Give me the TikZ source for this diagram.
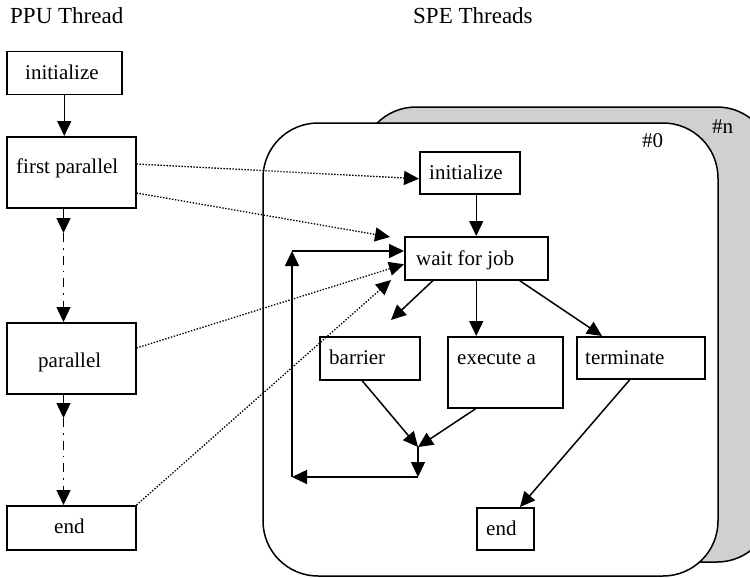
\documentclass[tikz,border=0pt]{standalone}
\usepackage{fontspec}
\setmainfont{Liberation Serif}
\usetikzlibrary{arrows.meta,calc}
\definecolor{shade}{RGB}{208,208,208}

\begin{document}
\begin{tikzpicture}[x=1pt,y=-1pt,
  box/.style={draw, line width=1.5pt, fill=white, anchor=north west, inner sep=0pt},
  lbl/.style={anchor=base west, inner sep=0pt, font=\fontsize{21}{25}\selectfont},
  title/.style={anchor=base west, inner sep=0pt, font=\fontsize{23}{27}\selectfont},
  tip/.style={-{Triangle[length=15pt,width=14pt]}},
  flow/.style={line width=1.5pt, tip},
  dashdot/.style={dash pattern=on 9pt off 6pt on 1.5pt off 6pt},
  call/.style={line width=1.3pt, dash pattern=on 1.4pt off 1.6pt, tip},
  frame/.style={draw, line width=1.5pt, rounded corners=55pt}]

\clip (0,0) rectangle (750,578);

% thread frames: SPE #n behind SPE #0
\path[frame, fill=shade] (361,107) rectangle (772,562);
\path[frame, fill=white] (263,123) rectangle (718,576);

% column titles
\node[title] (ppuT) at (10,24) {PPU Thread};
\node[title] (speT) at (413,24) {SPE Threads};
\node[lbl] (tag0) at (642,147) {\#0};
\node[lbl] (tagn) at (712,133) {\#n};

% PPU boxes
\node[box, minimum width=115pt, minimum height=43pt] (ppuinit) at (6,51) {};
\node[box, minimum width=129pt, minimum height=71pt] (fp) at (6,136) {};
\node[box, minimum width=129pt, minimum height=71pt] (par) at (6,322) {};
\node[box, minimum width=129pt, minimum height=44pt] (ppuend) at (6,505) {};

% SPE boxes
\node[box, minimum width=100pt, minimum height=42pt] (speinit) at (419,151) {};
\node[box, minimum width=143pt, minimum height=43pt] (wait) at (404,236) {};
\node[box, minimum width=100pt, minimum height=43pt] (barrier) at (319,336) {};
\node[box, minimum width=115pt, minimum height=71pt] (exec) at (447,336) {};
\node[box, minimum width=128pt, minimum height=42pt] (term) at (576,336) {};
\node[box, minimum width=57pt, minimum height=42pt] (speend) at (476,507) {};

% box texts
\node[lbl] (ppuinitT) at (25,80) {initialize};
\node[lbl] (fpT) at (16,173) {first parallel};
\node[lbl] (parT) at (38,367) {parallel};
\node[lbl] (ppuendT) at (54,533) {end};
\node[lbl] (speinitT) at (429,179) {initialize};
\node[lbl] (waitT) at (416,265) {wait for job};
\node[lbl] (barrierT) at (329,364) {barrier};
\node[lbl] (execT) at (457,364) {execute a};
\node[lbl] (termT) at (585,364) {terminate};
\node[lbl] (speendT) at (486,535) {end};

% PPU flow
\draw[flow] (ppuinit.south) -- (ppuinit.south |- fp.north);
\coordinate (c1) at (63.5,233);
\coordinate (c2) at (63.5,418);
\draw[flow] (c1 |- fp.south) -- (c1);
\draw[flow, dashdot] (c1) -- (c1 |- par.north);
\draw[flow] (c2 |- par.south) -- (c2);
\draw[flow, dashdot] (c2) -- (c2 |- ppuend.north);

% SPE flow
\draw[flow] (wait.north |- speinit.south) -- (wait.north);
\coordinate (toB) at (391,320);
\draw[flow] ($(wait.south west)+(29,0)$) -- (toB);
\draw[flow] (wait.south) -- (wait.south |- exec.north);
\draw[flow] ($(wait.south east)+(-29,0)$) -- ($(term.north west)+(26,0)$);
\coordinate (join) at (418,447);
\draw[flow] ($(barrier.south west)+(43,0)$) -- (join);
\draw[flow] ($(exec.south west)+(29,0)$) -- (join);
\coordinate (loopR) at (418,477);
\coordinate (loopL) at (292,477);
\coordinate (loopT) at (292,251);
\draw[flow] (join) -- (loopR);
\draw[flow] (loopR) -- (loopL);
\draw[flow] (loopL) -- (loopT);
\draw[flow] (loopT) -- (loopT -| wait.west);
\draw[flow] ($(term.south west)+(54,0)$) -- ($(speend.north west)+(44,0)$);

% PPU to SPE signals
\coordinate (callB) at (390,237);
\coordinate (callD) at (391,280);
\draw[call] ($(fp.north east)+(0,28)$) -- ($(speinit.west)+(0,6)$);
\draw[call] ($(fp.north east)+(0,57)$) -- (callB);
\draw[call] ($(par.north east)+(0,26)$) -- ($(wait.west)+(0,6)$);
\draw[call] (ppuend.north east) -- (callD);

\end{tikzpicture}
\end{document}
